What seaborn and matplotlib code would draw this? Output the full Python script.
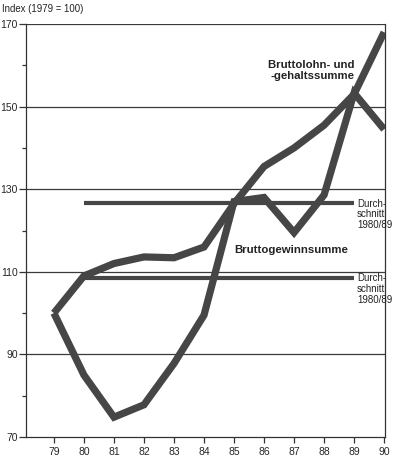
import matplotlib
matplotlib.use("Agg")
import matplotlib.pyplot as plt
import seaborn as sns
import pandas as pd
import numpy as np

years = [79, 80, 81, 82, 83, 84, 85, 86, 87, 88, 89, 90]
lohn = [100, 109, 112, 113.6, 113.4, 116, 126.5, 135.5, 140, 145.5, 153, 168]
gewinn = [100, 85, 74.8, 77.8, 87.8, 99.5, 127, 128, 119.5, 128.6, 153.3, 144.5]
avg_years = [80, 89]
avg_lohn = [126.6, 126.6]
avg_gewinn = [108.6, 108.6]
yticks_major = [70, 90, 110, 130, 150, 170]
yticks_minor = [80, 100, 120, 140, 160]

sns.set_style("white")
plt.rcParams['font.family'] = ['Liberation Sans', 'DejaVu Sans']

fig = plt.figure(figsize=(3.94, 4.59), dpi=100)
ax = fig.add_axes([26/394, 22/459, 359/394, 413/459])

col = "#464646"
df = pd.DataFrame({"Jahr": years * 2,
                   "Index": lohn + gewinn,
                   "Reihe": ["Lohn"] * len(years) + ["Gewinn"] * len(years)})
for name, d in df.groupby("Reihe"):
    sns.lineplot(data=d, x="Jahr", y="Index", ax=ax, color=col, lw=5.2,
                 solid_joinstyle="miter", solid_capstyle="butt", zorder=3)

sns.lineplot(x=avg_years, y=avg_lohn, ax=ax, color=col, lw=3.0, zorder=2,
             solid_capstyle="butt")
sns.lineplot(x=avg_years, y=avg_gewinn, ax=ax, color=col, lw=3.0, zorder=2,
             solid_capstyle="butt")

ax.set_xlim(78.07, 90.03)
ax.set_ylim(70, 170)
ax.set_xticks(years)
ax.set_xticklabels([str(y) for y in years])
ax.set_yticks(yticks_major)
ax.set_yticks(yticks_minor, minor=True)
for y in yticks_major[1:]:
    ax.axhline(y, color="#3a3a3a", lw=0.9, zorder=1)

for s in ["left", "bottom", "right"]:
    ax.spines[s].set_visible(True)
    ax.spines[s].set_color("#333333")
    ax.spines[s].set_linewidth(0.9)
ax.spines["top"].set_visible(False)

ax.tick_params(axis="y", which="major", length=5, width=0.9, color="#333333",
               labelsize=7.5, pad=1, left=True)
ax.tick_params(axis="y", which="minor", length=3, width=0.9, color="#333333", left=True)
ax.tick_params(axis="x", which="major", length=4, width=0.9, color="#333333",
               labelsize=7.5, pad=3, bottom=True, direction="out")
ax.set_xlabel("")
ax.set_ylabel("")
ax.grid(False)

fig.text(2/394, 1 - 9/459, "Index (1979 = 100)", fontsize=6.9, va="center", ha="left",
         color="#222222")

ax.text(89.03, 158.7, "Bruttolohn- und\n-gehaltssumme", fontsize=8.2, fontweight="bold",
        ha="right", va="center", linespacing=1.15, color="#222222")
ax.text(86.9, 115.3, "Bruttogewinnsumme", fontsize=8.2, fontweight="bold",
        ha="center", va="center", color="#222222")
ax.text(89.1, 123.9, "Durch-\nschnitt\n1980/89", fontsize=7, ha="left", va="center",
        linespacing=1.1, color="#222222")
ax.text(89.1, 105.9, "Durch-\nschnitt\n1980/89", fontsize=7, ha="left", va="center",
        linespacing=1.1, color="#222222")

fig.savefig("out.png", dpi=100)
